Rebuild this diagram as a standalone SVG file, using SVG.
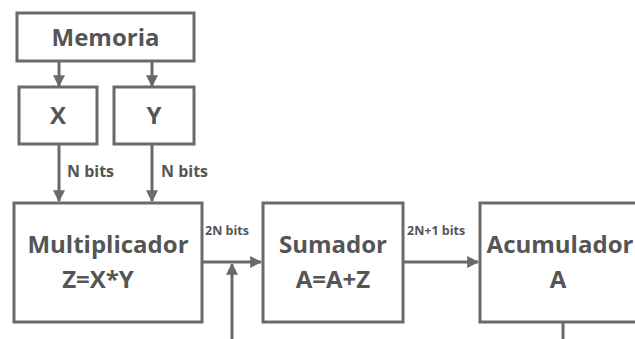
<svg xmlns="http://www.w3.org/2000/svg" width="635" height="339" viewBox="0 0 635 339">
  <style>
    .box { fill: #fff; stroke: #6a6a6a; stroke-width: 3; }
    .wire { fill: none; stroke: #6a6a6a; stroke-width: 3; }
    .t { font-family: "Open Sans", "Noto Sans", sans-serif; font-weight: bold; fill: #555; text-anchor: middle; }
    .big { font-size: 24px; }
    .lbl { font-family: "Open Sans", "Noto Sans", sans-serif; font-weight: bold; fill: #555; font-size: 16px; }
    .sm { font-size: 12.5px; }
  </style>
  <defs>
    <marker id="arr" viewBox="0 0 10 10" refX="9" refY="5" markerWidth="4" markerHeight="4" orient="auto" markerUnits="strokeWidth">
      <path d="M0,0 L10,5 L0,10 z" fill="#6a6a6a"/>
    </marker>
  </defs>
  <rect width="635" height="339" fill="#fff"/>

  <g id="connectors">
    <line class="wire" x1="59" y1="61" x2="59" y2="86" marker-end="url(#arr)"/>
    <line class="wire" x1="152" y1="61" x2="152" y2="86" marker-end="url(#arr)"/>
    <line class="wire" x1="59" y1="144" x2="59" y2="201" marker-end="url(#arr)"/>
    <line class="wire" x1="152" y1="144" x2="152" y2="201" marker-end="url(#arr)"/>
    <line class="wire" x1="202" y1="262" x2="261" y2="262" marker-end="url(#arr)"/>
    <line class="wire" x1="232" y1="339" x2="232" y2="264" marker-end="url(#arr)"/>
    <line class="wire" x1="403" y1="262" x2="478" y2="262" marker-end="url(#arr)"/>
    <line class="wire" x1="563" y1="322" x2="563" y2="339"/>
    <text class="lbl" x="67" y="177">N bits</text>
    <text class="lbl" x="161" y="177">N bits</text>
    <text class="lbl sm" x="205" y="235">2N bits</text>
    <text class="lbl sm" x="407" y="235">2N+1 bits</text>
  </g>

  <g id="memoria">
    <rect class="box" x="17" y="13" width="177" height="48"/>
    <text class="t big" x="105.5" y="46">Memoria</text>
  </g>
  <g id="x">
    <rect class="box" x="19" y="87" width="78" height="57"/>
    <text class="t big" x="58" y="124">X</text>
  </g>
  <g id="y">
    <rect class="box" x="114" y="87" width="80" height="57"/>
    <text class="t big" x="154" y="124">Y</text>
  </g>
  <g id="multiplicador">
    <rect class="box" x="14" y="203" width="188" height="119"/>
    <text class="t big" x="108" y="253">Multiplicador</text>
    <text class="t big" x="98" y="288" font-size="25">Z=X*Y</text>
  </g>
  <g id="sumador">
    <rect class="box" x="263" y="203" width="140" height="119"/>
    <text class="t big" x="333" y="253">Sumador</text>
    <text class="t big" x="333" y="288">A=A+Z</text>
  </g>
  <g id="acumulador">
    <rect class="box" x="480" y="203" width="170" height="119"/>
    <text class="t big" x="560" y="253">Acumulador</text>
    <text class="t big" x="558" y="288">A</text>
  </g>
</svg>
